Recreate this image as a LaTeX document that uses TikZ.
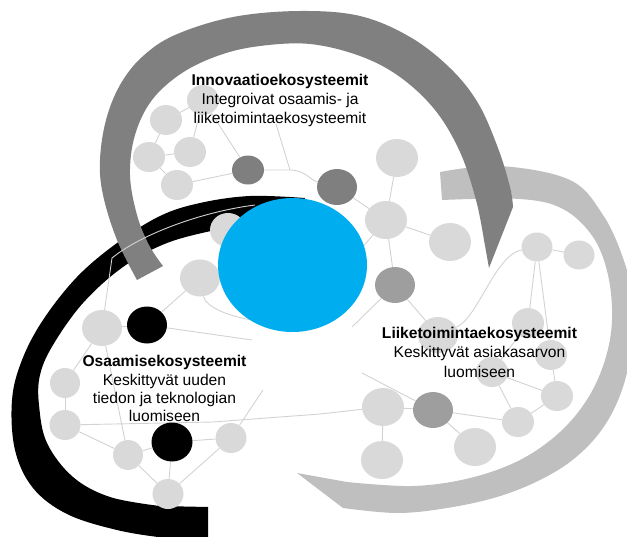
\documentclass[tikz,border=0pt]{standalone}
\usepackage{fontspec}
\setmainfont{Liberation Sans}
\usetikzlibrary{shapes.geometric}
\definecolor{lightc}{HTML}{D9D9D9}
\definecolor{linec}{HTML}{D2D2D2}
\definecolor{darkc}{HTML}{7F7F7F}
\definecolor{midc}{HTML}{9E9E9E}
\definecolor{bandg}{HTML}{808080}
\definecolor{bandl}{HTML}{BFBFBF}
\definecolor{bluec}{RGB}{0,174,239}
\pgfdeclarelayer{bands}
\pgfdeclarelayer{netlayer}
\pgfsetlayers{bands,netlayer,main}
\begin{document}
\begin{tikzpicture}[x=1pt,y=-1pt,
  net/.style={draw=linec, line width=0.9pt},
  bub/.style={ellipse, inner sep=0pt, fill=lightc, minimum width=32pt, minimum height=30pt},
  bigbub/.style={bub, minimum width=42pt, minimum height=38pt},
  darkbub/.style={bub, fill=darkc, minimum width=38pt, minimum height=35pt},
  midbub/.style={darkbub, fill=midc},
  blackbub/.style={bub, fill=black, minimum width=40pt, minimum height=38pt},
  label/.style={align=center, anchor=north, inner sep=0pt, text=black}
]
\clip (0,0) rectangle (627,536);

% ---------- bands ----------
\begin{pgfonlayer}{bands}
% light band (Liiketoiminta)
\fill[bandl] plot[smooth, tension=0.6] coordinates {(440,172) (500,166) (570,180) (603,215) (623,258) (633,300) (632,345) (622,390) (603,428) (575,458) (540,480) (497,497) (447,508) (397,513) (343,508)}
  -- (297,473)
  -- plot[smooth, tension=0.6] coordinates {(347,482) (413,486) (470,478) (520,460) (560,432) (588,398) (605,360) (612,320) (608,275) (593,237) (563,209) (520,199) (442,200)}
  -- cycle;
% black band (Osaamis)
\fill[black] plot[smooth, tension=0.6] coordinates {(305,198) (250,196) (200,203) (160,216) (117,243) (77,277) (43,320) (22,360) (12,400) (15,450) (33,488) (67,514) (117,530) (167,538) (208,540)}
  -- (208,507)
  -- plot[smooth, tension=0.6] coordinates {(160,506) (110,497) (73,477) (47,443) (39,405) (40,375) (53,345) (83,303) (123,267) (167,243) (220,229) (260,222) (295,220)}
  -- cycle;
% gray band (Innovaatio)
\fill[bandg] plot[smooth, tension=0.6] coordinates {(137,280) (117,240) (103,195) (100,160) (106,120) (120,85) (142,57) (175,35) (233,17) (300,11) (360,16) (410,37) (450,68) (478,103) (498,148) (510,187) (513,207)}
  -- (489,268)
  -- plot[smooth, tension=0.6] coordinates {(484,240) (476,200) (460,152) (435,110) (400,77) (360,56) (310,44) (260,46) (220,55) (182,73) (152,100) (135,135) (130,175) (137,215) (149,245) (163,266)}
  -- cycle;
\end{pgfonlayer}

% ---------- circles ----------
% top-left cluster
\node[bub] (t1) at (203,100) {};
\node[bub] (t2) at (166,120) {};
\node[bub] (t3) at (149,157) {};
\node[bub] (t4) at (190,152) {};
\node[bub] (t5) at (177,185) {};
\node[darkbub, minimum width=32pt, minimum height=29pt] (d1) at (248,170) {};
\node[darkbub, minimum width=40pt, minimum height=36pt] (d2) at (337,187) {};
\node[bub, minimum width=36pt, minimum height=34pt] (t6) at (228,230) {};
\node[bigbub, minimum width=40pt, minimum height=37pt] (t7) at (200,278) {};
% top-right cluster
\node[bigbub] (u1) at (397,158) {};
\node[bigbub] (u2) at (386,220) {};
\node[bigbub] (u3) at (450,242) {};
\node[midbub, minimum width=40pt, minimum height=36pt] (m1) at (395,285) {};
\node[bigbub, minimum width=40pt, minimum height=36pt] (v1) at (438,335) {};
% right cluster
\node[bub, minimum width=31pt, minimum height=29pt] (r1) at (537,247) {};
\node[bub, minimum width=31pt, minimum height=29pt] (r2) at (579,255) {};
\node[bub] (r3) at (528,323) {};
\node[bub] (r4) at (551,355) {};
\node[bub] (r5) at (492,372) {};
\node[bub] (r6) at (557,396) {};
\node[bub] (r7) at (518,422) {};
\node[midbub, minimum width=40pt, minimum height=36pt] (m2) at (433,410) {};
\node[bigbub] (r8) at (383,407) {};
\node[bigbub] (r9) at (475,447) {};
\node[bigbub] (r10) at (382,460) {};
% left cluster
\node[bigbub, minimum width=40pt, minimum height=36pt] (l0) at (102,328) {};
\node[blackbub, minimum width=40pt, minimum height=37pt] (k1) at (147,325) {};
\node[bub, minimum width=30pt, minimum height=30pt] (l1) at (65,383) {};
\node[bub, minimum width=31pt, minimum height=30pt] (l2) at (65,425) {};
\node[bub, minimum width=30pt, minimum height=30pt] (l3) at (128,455) {};
\node[blackbub, minimum width=41pt, minimum height=39pt] (k2) at (172,442) {};
\node[bub, minimum width=31pt, minimum height=30pt] (l4) at (231,438) {};
\node[bub, minimum width=31pt, minimum height=30pt] (l5) at (168,494) {};

% free ends / joints
\coordinate (j1) at (290,170);
\coordinate (f1) at (276,124);
\coordinate (f2) at (360,250);
\coordinate (f3) at (352,327);
\coordinate (f4) at (362,373);
\coordinate (f5) at (112,258);
\coordinate (f6) at (255,205);
\coordinate (f7) at (268,322);
\coordinate (f8) at (252,340);
\coordinate (f9) at (263,390);
\coordinate (j2) at (213,422);
\coordinate (j3) at (320,414);
\coordinate (c1) at (478,318);
\coordinate (c2) at (495,255);

% ---------- connectors ----------
\begin{pgfonlayer}{netlayer}
\draw[net] (t1) -- (t2);
\draw[net] (t2) -- (t3);
\draw[net] (t3) -- (t4);
\draw[net] (t4) -- (t1);
\draw[net] (t3) -- (t5);
\draw[net] (t5) -- (d1);
\draw[net] (t1) -- (d1);
\draw[net] (d1) -- (j1) .. controls (305,170) and (310,180) .. (d2);
\draw[net] (f1) -- (j1);
\draw[net] (u1) -- (u2);
\draw[net] (d2) -- (u2);
\draw[net] (u2) -- (u3);
\draw[net] (u2) -- (m1);
\draw[net] (u2) -- (f2);
\draw[net] (m1) -- (v1);
\draw[net] (m1) -- (f3);
\draw[net] (v1) .. controls (c1) and (c2) .. (r1);
\draw[net] (r1) -- (r2);
\draw[net] (r1) -- (r3);
\draw[net] (r1) -- (r4);
\draw[net] (r3) -- (r5);
\draw[net] (r4) -- (r6);
\draw[net] (r5) -- (r6);
\draw[net] (r5) -- (r7);
\draw[net] (r6) -- (r7);
\draw[net] (m2) -- (r7);
\draw[net] (m2) -- (r9);
\draw[net] (m2) -- (r8);
\draw[net] (r8) -- (r10);
\draw[net] (f4) -- (m2);
\draw[net] (l0) -- (k1);
\draw[net] (l0) -- (f5) .. controls (140,235) and (200,212) .. (f6);
\draw[net] (k1) -- (t7);
\draw[net] (t7) .. controls (205,305) and (225,318) .. (f7);
\draw[net] (k1) -- (f8);
\draw[net] (l0) -- (l3);
\draw[net] (l1) -- (l2);
\draw[net] (l1) -- (l0);
\draw[net] (l2) -- (l3);
\draw[net] (l3) -- (k2);
\draw[net] (l3) -- (l5);
\draw[net] (k2) -- (l5);
\draw[net] (k2) -- (l4);
\draw[net] (l5) -- (l4);
\draw[net] (l4) -- (f9);
\draw[net] (l2) -- (j2) -- (j3) -- (r8);
\end{pgfonlayer}

% ---------- centre ----------
\node[ellipse, fill=bluec, inner sep=0pt, minimum width=149pt, minimum height=134pt] (blue) at (292.5,265) {};

% ---------- texts ----------
\node[label, font=\fontsize{15.6}{19}\selectfont] (tinno) at (280,73.6)
  {\textbf{Innovaatioekosysteemit}\\Integroivat osaamis- ja\\liiketoimintaekosysteemit};
\node[label, font=\fontsize{15.6}{18.4}\selectfont] (tosaa) at (164.5,355.2)
  {\textbf{Osaamisekosysteemit}\\Keskittyvät uuden\\tiedon ja teknologian\\luomiseen};
\node[label, font=\fontsize{15.6}{19.5}\selectfont] (tliike) at (479.5,326.6)
  {\textbf{Liiketoimintaekosysteemit}\\Keskittyvät asiakasarvon\\luomiseen};
\end{tikzpicture}
\end{document}
